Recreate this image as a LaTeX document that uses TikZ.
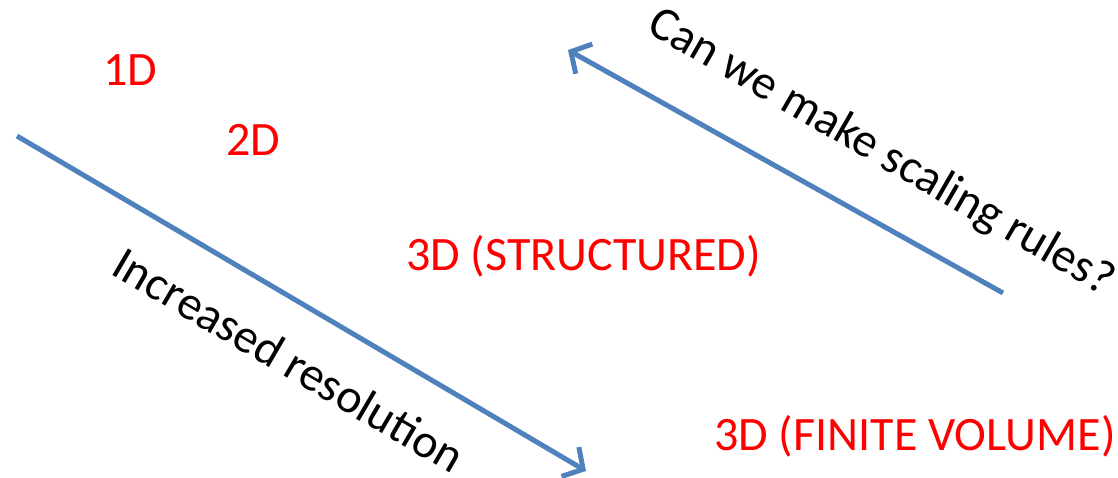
\documentclass[tikz,border=0pt]{standalone}
\usepackage{fontspec}
\setmainfont{Carlito}
\usetikzlibrary{arrows.meta}
\definecolor{arrowblue}{HTML}{4F81BD}
\definecolor{dimred}{HTML}{FF0000}
\tikzset{
  x=1pt, y=-1pt,
  dimlabel/.style={text=dimred, font=\fontsize{48}{56}\selectfont, inner sep=0pt, anchor=base west},
  sidelabel/.style={text=black, font=\fontsize{48}{56}\selectfont, inner sep=0pt},
  bigarrow/.style={draw=arrowblue, line width=5pt, -{Straight Barb[length=15pt,width=34pt,line width=5pt]}}
}
\begin{document}
\begin{tikzpicture}
\useasboundingbox (0,0) rectangle (1118,477);
\node[dimlabel] (d1) at (103,85) {1D};
\node[dimlabel] (d2) at (226,155) {2D};
\node[dimlabel] (d3s) at (406,270) {3D (STRUCTURED)};
\node[dimlabel] (d3f) at (714,450) {3D (FINITE VOLUME)};
\coordinate (a1s) at (17,136);
\coordinate (a1e) at (586,471);
\coordinate (a2s) at (1003,293);
\coordinate (a2e) at (568,50);
\draw[bigarrow] (a1s) -- (a1e);
\draw[bigarrow] (a2s) -- (a2e);
\node[sidelabel, rotate=-30.4] (inc) at (289,360) {Increased resolution};
\node[sidelabel, rotate=-30] (can) at (881,153) {Can we make scaling rules?};
\end{tikzpicture}
\end{document}
